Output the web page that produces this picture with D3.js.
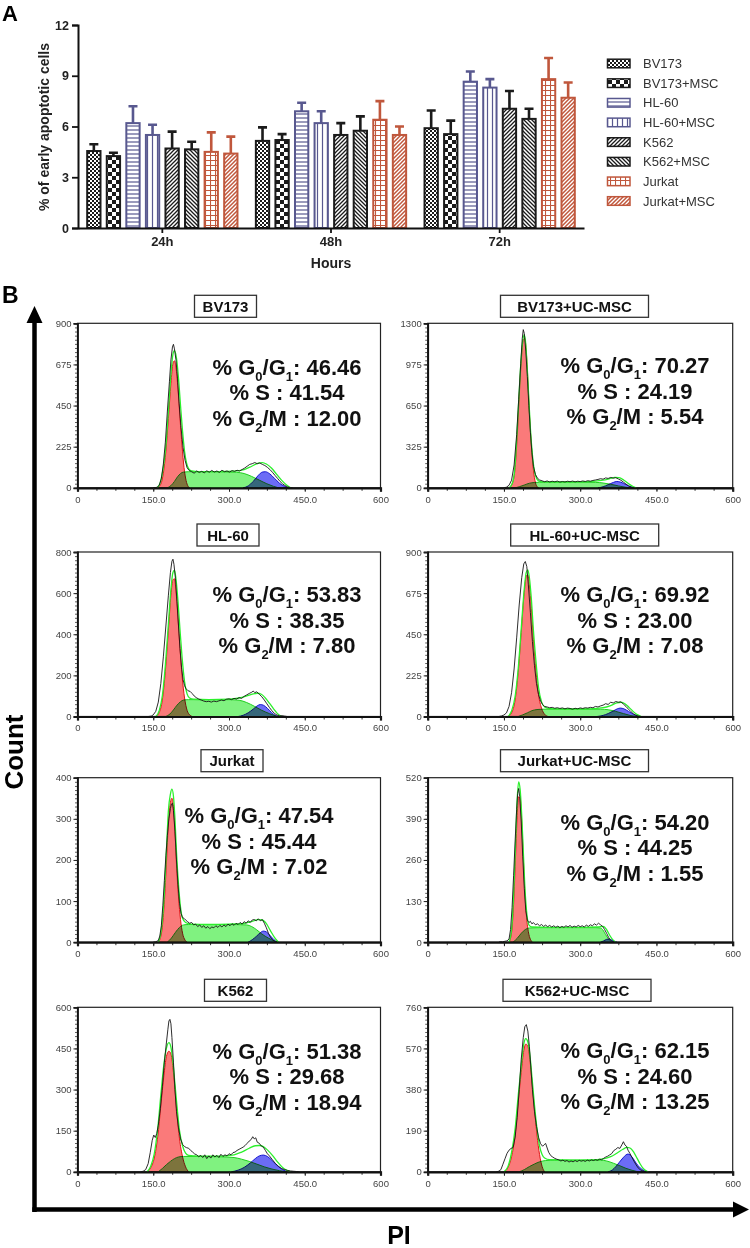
<!DOCTYPE html>
<html><head><meta charset="utf-8">
<script src="https://cdn.jsdelivr.net/npm/d3@7/dist/d3.min.js"></script>
<style>body{margin:0;background:#fff}svg{display:block;font-family:Arial,"Liberation Sans",sans-serif}</style>
</head><body><svg id="c" width="750" height="1248"></svg>
<script>
// ---------------- Panel A data ----------------
const hours = ["24h", "48h", "72h"];
const seriesNames = ["BV173", "BV173+MSC", "HL-60", "HL-60+MSC", "K562", "K562+MSC", "Jurkat", "Jurkat+MSC"];
const mean24h = [4.55, 4.25, 6.2, 5.5, 4.7, 4.65, 4.5, 4.4];
const err24h  = [0.4, 0.2, 1.0, 0.6, 1.0, 0.45, 1.15, 1.0];
const mean48h = [5.15, 5.2, 6.9, 6.2, 5.5, 5.75, 6.4, 5.5];
const err48h  = [0.8, 0.35, 0.5, 0.7, 0.7, 0.85, 1.1, 0.5];
const mean72h = [5.9, 5.55, 8.65, 8.3, 7.05, 6.45, 8.8, 7.7];
const err72h  = [1.05, 0.8, 0.6, 0.5, 1.05, 0.6, 1.25, 0.9];
const yTicksA = [0, 3, 6, 9, 12];

// ---------------- Panel B data ----------------
const panelNames = ["BV173", "BV173+UC-MSC", "HL-60", "HL-60+UC-MSC", "Jurkat", "Jurkat+UC-MSC", "K562", "K562+UC-MSC"];
const panelMax = [900, 1300, 800, 900, 400, 520, 600, 760];
const pctG1 = ["46.46", "70.27", "53.83", "69.92", "47.54", "54.20", "51.38", "62.15"];
const pctS  = ["41.54", "24.19", "38.35", "23.00", "45.44", "44.25", "29.68", "24.60"];
const pctG2 = ["12.00", "5.54", "7.80", "7.08", "7.02", "1.55", "18.94", "13.25"];
const xTickLabels = ["0", "150.0", "300.0", "450.0", "600"];

// flat [PI, count, PI, count, ...]
const histBV173 = [150,0,158,3,162,15,166,50,170,130,174,250,178,420,182,580,185,700,188,770,190,785,192,760,195,700,198,600,201,470,205,330,209,220,213,150,217,110,221,95,226,88,231,80,236,92,241,84,246,90,251,82,256,93,261,85,266,95,271,86,276,92,281,84,286,96,291,88,296,92,301,86,306,94,311,90,316,96,321,92,326,100,331,108,336,118,341,128,346,132,351,138,356,132,361,136,366,128,371,122,376,112,381,100,386,85,391,68,396,52,401,35,406,22,411,12,416,5,421,1,426,0];
const g1BV173 = [158,0,165,20,170,80,175,200,180,380,185,570,189,680,192,695,195,660,199,540,203,380,207,230,211,110,215,40,219,8,222,0];
const sBV173 = [178,0,185,12,192,35,198,60,204,78,210,86,220,88,250,88,290,87,315,85,330,78,345,62,360,42,375,22,388,8,398,0];
const g2BV173 = [328,0,338,10,348,35,358,68,366,86,372,88,380,78,390,52,400,25,410,8,418,0];
const fitBV173 = [158,0,164,30,170,110,175,230,180,420,185,620,189,730,192,750,196,710,200,600,204,450,208,310,212,200,216,135,220,105,226,92,240,89,280,89,310,91,330,100,345,118,358,135,366,138,374,130,384,108,394,75,404,42,414,15,422,0];

const histBV173UC = [150,0,155,5,160,20,165,60,170,180,175,420,179,700,183,980,186,1180,188,1250,190,1220,193,1080,196,880,199,650,202,440,205,280,208,170,212,105,216,75,220,62,225,55,230,48,235,54,240,46,245,52,250,47,255,53,260,45,265,50,270,46,275,52,280,48,285,53,290,47,295,52,300,49,305,54,310,50,315,56,320,52,325,58,330,62,335,66,340,72,345,68,350,78,355,74,360,82,365,76,370,80,375,70,380,60,385,45,390,30,395,15,400,5,405,0];
const g1BV173UC = [160,0,167,40,172,160,176,400,180,720,184,1000,188,1170,191,1180,194,1070,197,860,200,600,204,330,208,140,212,40,216,5,218,0];
const sBV173UC = [172,0,180,8,190,22,200,36,210,42,220,44,260,44,300,44,330,43,345,38,360,28,375,15,390,4,398,0];
const g2BV173UC = [335,0,345,8,355,25,365,42,372,50,380,44,390,25,400,8,408,0];
const fitBV173UC = [160,0,166,30,171,140,175,380,179,680,183,970,187,1160,190,1210,193,1130,196,930,199,700,202,470,206,260,210,130,214,75,218,55,225,47,250,46,300,47,330,52,345,60,358,72,368,82,376,80,386,60,396,30,404,10,410,0];

const histHL60 = [140,0,146,2,150,8,155,25,160,70,165,160,170,290,175,440,180,590,184,700,187,755,189,765,191,740,194,670,197,560,200,440,203,330,206,240,209,180,212,150,215,135,219,125,223,122,227,112,231,100,235,92,240,85,245,80,250,75,255,72,260,74,265,70,270,75,275,72,280,76,285,80,290,77,295,84,300,86,305,82,310,88,315,85,320,92,325,88,330,98,335,105,340,112,345,118,348,124,351,116,355,120,360,108,365,96,370,80,375,62,380,44,385,28,390,15,395,7,400,3,405,4,410,2,415,0];
const g1HL60 = [155,0,162,20,168,80,174,220,180,420,185,590,189,665,192,670,195,610,199,480,203,330,207,200,212,90,217,30,222,8,227,0];
const sHL60 = [175,0,183,12,190,32,197,55,204,72,210,80,220,82,260,82,300,82,320,79,335,68,350,50,365,30,380,14,395,0];
const g2HL60 = [318,0,328,6,338,18,348,36,356,52,362,58,368,55,376,40,384,20,392,5,398,0];
const fitHL60 = [155,0,162,30,168,100,174,250,180,450,185,620,189,700,192,712,195,670,199,560,203,420,207,290,212,170,217,110,222,90,230,84,260,82,300,84,320,90,335,100,348,110,356,113,364,108,372,90,380,65,388,38,396,14,404,0];

const histHL60UC = [140,0,145,3,150,8,155,20,160,55,165,130,170,260,175,430,180,610,185,760,189,835,192,848,195,820,198,720,202,570,206,410,210,280,214,180,218,120,222,85,226,65,230,55,235,52,240,48,245,50,250,45,255,48,260,44,265,47,270,42,275,46,280,44,285,40,290,45,295,42,300,47,305,44,310,48,315,46,320,50,325,48,330,55,335,52,340,58,345,62,350,70,355,66,360,78,365,74,370,82,375,78,380,80,385,68,390,55,395,40,400,26,405,14,410,6,415,2,420,0];
const g1HL60UC = [158,0,165,20,172,90,178,240,184,460,190,680,194,770,197,775,200,720,204,590,208,420,213,250,218,120,224,45,230,12,237,0];
const sHL60UC = [178,0,186,8,196,20,205,32,215,38,225,40,260,40,300,40,340,40,355,37,370,28,385,16,398,6,410,0];
const g2HL60UC = [333,0,345,6,355,16,365,30,373,42,379,46,386,42,395,28,405,12,413,3,418,0];
const fitHL60UC = [158,0,165,30,172,110,178,260,184,480,190,700,194,790,197,802,200,760,204,640,208,470,213,300,218,160,224,80,230,52,240,43,280,41,320,42,345,48,360,60,372,74,380,78,388,70,396,50,404,28,412,10,420,0];

const histJurkat = [150,0,155,1,160,4,163,15,166,40,169,90,172,150,175,210,178,260,181,300,184,325,186,336,188,338,190,320,193,270,196,200,199,140,202,95,205,70,208,60,211,58,214,54,218,50,222,46,226,48,230,42,234,44,238,38,242,42,246,36,250,40,254,34,258,38,262,33,266,37,270,35,274,40,278,36,282,41,286,37,290,42,294,38,298,44,302,40,306,45,310,41,314,46,318,43,322,48,326,44,330,50,334,46,338,52,342,48,346,54,350,55,354,52,358,57,362,52,366,55,370,46,374,35,378,22,382,12,386,6,390,2,395,0];
const g1Jurkat = [160,0,166,20,171,80,176,190,180,290,184,340,187,350,190,330,193,270,196,190,200,110,204,55,208,22,213,5,217,0];
const sJurkat = [178,0,186,10,194,24,202,36,210,42,220,43,260,43,300,43,335,42,345,38,355,30,365,20,378,10,390,3,398,0];
const g2Jurkat = [338,0,346,6,354,14,362,23,368,27,374,25,380,18,386,10,392,3,397,0];
const fitJurkat = [160,0,166,30,171,100,176,220,180,320,184,360,187,372,190,355,193,300,196,220,200,140,204,85,208,58,214,48,225,44,260,43,300,44,330,46,345,50,358,55,366,54,374,45,382,28,390,12,398,0];

const histJurkatUC = [140,0,143,2,147,1,152,3,156,4,160,10,163,40,166,110,169,210,172,320,175,420,177,470,179,486,181,460,184,380,187,270,190,170,193,100,196,70,199,62,202,66,205,58,208,62,212,55,216,58,220,52,224,56,228,50,232,54,236,49,240,53,244,48,248,52,252,47,256,51,260,46,264,50,268,47,272,52,276,48,280,53,284,47,288,51,292,48,296,53,300,49,304,52,308,48,312,54,316,50,320,55,324,52,328,58,332,54,336,60,340,55,344,50,348,40,352,28,356,15,360,6,364,2,368,0];
const g1JurkatUC = [160,0,165,30,169,120,173,280,176,400,179,460,182,455,185,380,188,270,191,160,195,70,199,25,203,6,206,0];
const sJurkatUC = [168,0,176,12,184,28,192,40,200,45,220,46,260,46,300,46,330,46,340,45,345,38,350,24,356,10,362,0];
const g2JurkatUC = [340,0,346,4,352,9,357,10,362,7,367,3,372,0];
const fitJurkatUC = [160,0,165,40,169,150,173,320,176,450,179,507,182,480,185,400,188,290,191,180,195,90,199,55,205,48,240,47,300,47,335,48,345,50,352,40,358,22,364,8,370,0];

const histK562 = [125,0,130,2,135,8,140,30,144,70,148,115,151,134,154,125,157,140,160,170,164,230,168,310,172,400,176,470,179,520,181,550,183,556,185,540,187,490,190,400,193,300,196,220,200,160,204,120,208,100,212,92,216,88,220,86,224,78,228,72,232,65,236,62,240,55,244,60,248,52,252,62,256,48,260,58,264,50,268,62,272,54,276,60,280,52,284,64,288,56,292,62,296,58,300,66,304,62,308,70,312,72,316,78,320,82,324,86,328,90,332,96,336,104,340,112,344,118,347,128,350,120,353,124,356,108,360,104,364,94,368,90,372,78,376,66,380,58,386,44,392,30,398,20,404,12,410,8,416,5,422,3,428,2,434,1,438,0];
const g1K562 = [138,0,145,15,152,50,159,130,165,240,171,350,176,420,181,440,185,430,189,380,193,300,197,210,202,120,208,55,214,18,220,0];
const sK562 = [160,0,168,12,176,26,184,38,192,48,200,54,210,56,240,56,280,55,310,52,325,46,340,38,355,28,370,18,385,10,400,4,414,0];
const g2K562 = [305,0,318,6,330,16,342,32,352,48,360,58,368,61,376,56,386,40,396,22,406,8,416,0];
const fitK562 = [138,0,145,20,152,65,159,160,165,280,171,390,176,450,181,471,185,455,189,400,193,320,197,240,202,150,208,95,214,68,220,60,240,57,280,57,310,62,325,72,340,86,352,95,360,96,368,92,376,80,386,60,396,36,406,16,416,4,422,0];

const histK562UC = [135,0,140,3,144,10,148,35,152,60,156,85,160,100,164,108,168,112,172,160,176,250,180,380,184,520,188,620,191,670,194,680,197,650,200,580,203,480,206,380,210,280,214,210,218,160,222,130,226,118,229,125,232,131,235,110,238,90,242,75,246,68,250,62,254,58,258,55,262,50,266,54,270,48,274,52,278,45,282,50,286,46,290,52,294,47,298,53,302,49,306,52,310,48,314,54,318,50,322,55,326,52,330,56,334,53,338,58,342,56,346,62,350,68,354,72,358,78,362,84,366,98,370,104,374,112,378,108,382,125,385,139,388,124,391,118,394,100,398,84,402,66,406,48,410,32,414,18,418,10,422,5,426,2,430,0];
const g1K562UC = [150,0,158,20,165,70,172,170,178,320,184,460,189,560,193,590,197,580,201,520,205,420,210,290,215,170,220,80,225,25,230,0];
const sK562UC = [180,0,190,10,200,24,210,36,220,46,232,52,250,54,300,54,340,54,352,50,365,40,378,28,390,16,402,7,414,0];
const g2K562UC = [355,0,363,8,370,24,377,44,384,64,390,78,394,82,398,78,404,62,410,40,418,18,426,5,432,0];
const fitK562UC = [150,0,158,25,165,90,172,200,178,350,184,490,189,590,193,615,197,600,201,540,205,440,210,310,215,200,220,120,225,80,230,64,240,56,280,54,320,55,345,60,360,70,372,86,384,104,392,113,398,110,405,92,412,62,418,36,424,15,430,4,434,0];

// ---------------- drawing ----------------
const svg = d3.select("#c");
const defs = svg.append("defs");
const BLACK = "#1b1b1b", PURPLE = "#58588f", RED = "#c0573c";
const seriesColor = [BLACK, BLACK, PURPLE, PURPLE, BLACK, BLACK, RED, RED];

function pat(id, w, h, build) {
  const p = defs.append("pattern").attr("id", id).attr("patternUnits", "userSpaceOnUse")
    .attr("width", w).attr("height", h);
  p.append("rect").attr("width", w).attr("height", h).attr("fill", "#fff");
  build(p);
}
pat("p0", 4, 4, p => { p.append("rect").attr("width", 2).attr("height", 2).attr("fill", BLACK);
  p.append("rect").attr("x", 2).attr("y", 2).attr("width", 2).attr("height", 2).attr("fill", BLACK); });
pat("p1", 8, 8, p => { p.append("rect").attr("width", 4).attr("height", 4).attr("fill", BLACK);
  p.append("rect").attr("x", 4).attr("y", 4).attr("width", 4).attr("height", 4).attr("fill", BLACK); });
pat("p2", 4, 4, p => p.append("path").attr("d", "M0,2H4").attr("stroke", PURPLE).attr("stroke-width", 1.2));
pat("p3", 5, 5, p => p.append("path").attr("d", "M2.5,0V5").attr("stroke", PURPLE).attr("stroke-width", 1.2));
pat("p4", 4, 4, p => p.append("path").attr("d", "M0,4L4,0M-1,1L1,-1M3,5L5,3").attr("stroke", BLACK).attr("stroke-width", 1.3));
pat("p5", 4, 4, p => p.append("path").attr("d", "M0,0L4,4M-1,3L1,5M3,-1L5,1").attr("stroke", BLACK).attr("stroke-width", 1.3));
pat("p6", 5, 5, p => p.append("path").attr("d", "M0,0.5H5M0.5,0V5").attr("stroke", RED).attr("stroke-width", 1.1));
pat("p7", 4, 4, p => p.append("path").attr("d", "M0,4L4,0M-1,1L1,-1M3,5L5,3").attr("stroke", RED).attr("stroke-width", 1.5));

// Panel A
svg.append("text").attr("x", 2).attr("y", 21).attr("font-size", 22).attr("font-weight", "bold").text("A");
const yA = d3.scaleLinear().domain([0, 12]).range([228, 25]);
const xG = d3.scaleBand().domain(hours).range([78, 584]);
const xS = d3.scaleBand().domain(seriesNames).range([0, xG.bandwidth()]).paddingInner(0.32).paddingOuter(0.47);
const meansByHour = [mean24h, mean48h, mean72h];
const errsByHour = [err24h, err48h, err72h];
const barData = [];
hours.forEach((h, hi) => seriesNames.forEach((s, si) =>
  barData.push({ h, s, si, v: meansByHour[hi][si], e: errsByHour[hi][si] })));

const gA = svg.append("g");
const cap = 4.5;
gA.selectAll(".err").data(barData).join("path")
  .attr("d", d => { const cx = xG(d.h) + xS(d.s) + xS.bandwidth() / 2;
    return `M${cx},${yA(d.v)}V${yA(d.v + d.e)}M${cx - cap},${yA(d.v + d.e)}H${cx + cap}`; })
  .attr("stroke", d => seriesColor[d.si]).attr("stroke-width", 2.6).attr("fill", "none");
gA.selectAll(".bar").data(barData).join("rect")
  .attr("x", d => xG(d.h) + xS(d.s)).attr("width", xS.bandwidth())
  .attr("y", d => yA(d.v)).attr("height", d => yA(0) - yA(d.v))
  .attr("fill", d => `url(#p${d.si})`).attr("stroke", d => seriesColor[d.si]).attr("stroke-width", 2);

const axYA = svg.append("g").attr("transform", "translate(78,0)")
  .call(d3.axisLeft(yA).tickValues(yTicksA).tickSize(6).tickPadding(3));
axYA.select(".domain").attr("stroke-width", 2).attr("stroke", "#111");
axYA.selectAll(".tick line").attr("stroke-width", 1.8).attr("stroke", "#111");
axYA.selectAll("text").attr("font-size", 12.5).attr("font-weight", "bold").attr("fill", "#222").attr("font-family", "Arial, Liberation Sans, sans-serif");
const axXA = svg.append("g").attr("transform", "translate(0,228)")
  .call(d3.axisBottom(xG).tickSize(5).tickSizeOuter(0).tickPadding(4));
axXA.select(".domain").attr("stroke-width", 2).attr("stroke", "#111");
axXA.selectAll(".tick line").attr("stroke-width", 1.8).attr("stroke", "#111");
axXA.selectAll("text").attr("font-size", 13).attr("font-weight", "bold").attr("fill", "#222").attr("font-family", "Arial, Liberation Sans, sans-serif");
svg.append("text").attr("x", 331).attr("y", 268).attr("text-anchor", "middle").attr("font-size", 14)
  .attr("font-weight", "bold").attr("fill", "#222").text("Hours");
svg.append("text").attr("transform", "translate(49,127) rotate(-90)").attr("text-anchor", "middle")
  .attr("font-size", 14).attr("font-weight", "bold").attr("fill", "#222").text("% of early apoptotic cells");

// legend
const legY = d3.scalePoint().domain(seriesNames).range([63.5, 201]);
const leg = svg.append("g");
seriesNames.forEach((s, i) => {
  leg.append("rect").attr("x", 607.5).attr("y", legY(s) - 4.3).attr("width", 22.5).attr("height", 8.6)
    .attr("fill", `url(#p${i})`).attr("stroke", seriesColor[i]).attr("stroke-width", 1.5);
  leg.append("text").attr("x", 643).attr("y", legY(s) + 4.6).attr("font-size", 13).attr("fill", "#333").text(s);
});

// Panel B
svg.append("text").attr("x", 2).attr("y", 303).attr("font-size", 23).attr("font-weight", "bold").text("B");
// big arrows
svg.append("path").attr("d", "M34.5,1212V318").attr("stroke", "#000").attr("stroke-width", 4.5);
svg.append("path").attr("d", "M34.5,306L26.5,323H42.5Z").attr("fill", "#000");
svg.append("path").attr("d", "M32.3,1209.5H737").attr("stroke", "#000").attr("stroke-width", 4.5);
svg.append("path").attr("d", "M749,1209.5L733,1201.5V1217.5Z").attr("fill", "#000");
svg.append("text").attr("transform", "translate(23,752) rotate(-90)").attr("text-anchor", "middle")
  .attr("font-size", 26).attr("font-weight", "bold").text("Count");
svg.append("text").attr("x", 399).attr("y", 1244).attr("text-anchor", "middle")
  .attr("font-size", 25).attr("font-weight", "bold").text("PI");

const toPairs = a => d3.range(0, a.length, 2).map(i => [a[i], a[i + 1]]);
const panelHist = [histBV173, histBV173UC, histHL60, histHL60UC, histJurkat, histJurkatUC, histK562, histK562UC];
const panelG1 = [g1BV173, g1BV173UC, g1HL60, g1HL60UC, g1Jurkat, g1JurkatUC, g1K562, g1K562UC];
const panelS = [sBV173, sBV173UC, sHL60, sHL60UC, sJurkat, sJurkatUC, sK562, sK562UC];
const panelG2 = [g2BV173, g2BV173UC, g2HL60, g2HL60UC, g2Jurkat, g2JurkatUC, g2K562, g2K562UC];
const panelFit = [fitBV173, fitBV173UC, fitHL60, fitHL60UC, fitJurkat, fitJurkatUC, fitK562, fitK562UC];

// layout
const colX = [[77.5, 380.5], [427.7, 732.7]];
const rowTop = [323.3, 552, 777.7, 1007.3];
const plotH = 164.5;
const titleCX = [225.5, 574.5, 228, 584.7, 232, 574.5, 235.5, 577];
const statCX = [287, 635, 287, 635, 259, 635, 287, 635];
const statTop = [43.5, 42, 42, 42, 37.3, 44, 43.4, 43];
const FONT = "Arial, Liberation Sans, sans-serif";

panelNames.forEach((name, i) => {
  const col = i % 2, row = Math.floor(i / 2);
  const [x0, x1] = colX[col];
  const top = rowTop[row], bot = top + plotH;
  const x = d3.scaleLinear().domain([0, 600]).range([x0, x1]);
  const y = d3.scaleLinear().domain([0, panelMax[i]]).range([bot, top]);
  const g = svg.append("g");
  // title box
  const tw = col === 0 ? 62 : 148;
  g.append("rect").attr("x", titleCX[i] - tw / 2).attr("y", top - 28).attr("width", tw).attr("height", 22)
    .attr("fill", "#fff").attr("stroke", "#333").attr("stroke-width", 1.3);
  g.append("text").attr("x", titleCX[i]).attr("y", top - 11.5).attr("text-anchor", "middle")
    .attr("font-size", 15).attr("font-weight", "bold").attr("fill", "#111").text(name);
  // frame
  g.append("rect").attr("x", x0).attr("y", top).attr("width", x1 - x0).attr("height", plotH)
    .attr("fill", "none").attr("stroke", "#222").attr("stroke-width", 1.2);
  // components
  const area = d3.area().x(d => x(d[0])).y0(y(0)).y1(d => y(d[1])).curve(d3.curveMonotoneX);
  const line = d3.line().x(d => x(d[0])).y(d => y(d[1]));
  g.append("path").attr("d", area(toPairs(panelS[i]))).attr("fill", "rgb(128,242,128)")
    .attr("stroke", "#1fcf1f").attr("stroke-width", 1);
  g.append("path").attr("d", area(toPairs(panelG1[i]))).attr("fill", "rgb(250,122,122)")
    .attr("stroke", "#e01515").attr("stroke-width", 1).style("mix-blend-mode", "multiply");
  g.append("path").attr("d", area(toPairs(panelG2[i]))).attr("fill", "rgb(108,108,245)")
    .attr("stroke", "#1515d0").attr("stroke-width", 1).style("mix-blend-mode", "multiply");
  g.append("path").attr("d", line.curve(d3.curveMonotoneX)(toPairs(panelFit[i]))).attr("fill", "none")
    .attr("stroke", "#2cf02c").attr("stroke-width", 1.3);
  g.append("path").attr("d", d3.line().x(d => x(d[0])).y(d => y(d[1]))(toPairs(panelHist[i]))).attr("fill", "none")
    .attr("stroke", "#161616").attr("stroke-width", 0.9);
  // axes
  const yMajor = d3.range(0, 5).map(k => panelMax[i] * k / 4);
  const yMinor = d3.range(0, 41).map(k => panelMax[i] * k / 40);
  const ayMin = g.append("g").attr("transform", `translate(${x0},0)`)
    .call(d3.axisLeft(y).tickValues(yMinor).tickSize(2.5).tickFormat(""));
  ayMin.select(".domain").remove();
  ayMin.selectAll("line").attr("stroke", "#333").attr("stroke-width", 0.8);
  const ay = g.append("g").attr("transform", `translate(${x0},0)`)
    .call(d3.axisLeft(y).tickValues(yMajor).tickSize(4).tickPadding(2).tickFormat(d3.format("d")));
  ay.select(".domain").attr("stroke", "#111").attr("stroke-width", 1.8);
  ay.selectAll("line").attr("stroke", "#222");
  ay.selectAll("text").attr("font-size", 9.5).attr("fill", "#444").attr("font-family", FONT);
  const axMin = g.append("g").attr("transform", `translate(0,${bot})`)
    .call(d3.axisBottom(x).tickValues(d3.range(0, 601, 37.5)).tickSize(3).tickFormat(""));
  axMin.select(".domain").remove();
  axMin.selectAll("line").attr("stroke", "#333");
  const ax = g.append("g").attr("transform", `translate(0,${bot})`)
    .call(d3.axisBottom(x).tickValues([0, 150, 300, 450, 600]).tickSize(4).tickPadding(4)
      .tickFormat((d, k) => xTickLabels[k]));
  ax.select(".domain").attr("stroke", "#111").attr("stroke-width", 2.2);
  ax.selectAll("line").attr("stroke", "#222");
  ax.selectAll("text").attr("font-size", 9.5).attr("fill", "#444").attr("font-family", FONT);
  // stats
  const st = g.append("g").attr("font-size", 22).attr("font-weight", "bold").attr("fill", "#111").attr("text-anchor", "middle");
  const b1 = top + statTop[i] + 8;
  const t1 = st.append("text").attr("x", statCX[i]).attr("y", b1);
  t1.append("tspan").text("% G");
  t1.append("tspan").attr("font-size", 13).attr("dy", 6).text("0");
  t1.append("tspan").attr("dy", -6).text("/G");
  t1.append("tspan").attr("font-size", 13).attr("dy", 6).text("1");
  t1.append("tspan").attr("dy", -6).text(": " + pctG1[i]);
  st.append("text").attr("x", statCX[i]).attr("y", b1 + 25.5).text("% S : " + pctS[i]);
  const t3 = st.append("text").attr("x", statCX[i]).attr("y", b1 + 51);
  t3.append("tspan").text("% G");
  t3.append("tspan").attr("font-size", 13).attr("dy", 6).text("2");
  t3.append("tspan").attr("dy", -6).text("/M : " + pctG2[i]);
});
</script></body></html>
